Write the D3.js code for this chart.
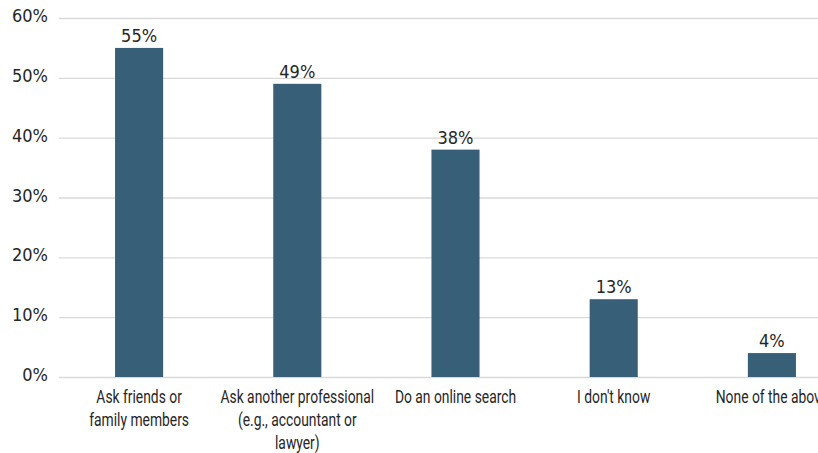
<!DOCTYPE html>
<html>
<head>
<meta charset="utf-8">
<script src="https://cdn.jsdelivr.net/npm/d3@7"></script>
<style>
  html, body { margin: 0; padding: 0; background: #ffffff; }
  svg { display: block; }
</style>
</head>
<body>
<svg id="chart" width="818" height="453"></svg>
<script>
const categories = [
  ["Ask friends or", "family members"],
  ["Ask another professional", "(e.g., accountant or", "lawyer)"],
  ["Do an online search"],
  ["I don't know"],
  ["None of the above"]
];
const values = [55, 49, 38, 13, 4];
const yTicks = [0, 10, 20, 30, 40, 50, 60];

const svg = d3.select("#chart");
const margin = { left: 60 };
const plotRight = 851;

const x = d3.scaleBand()
  .domain(d3.range(values.length))
  .range([margin.left, plotRight])
  .paddingInner(0.696)
  .paddingOuter(0.348);

const y = d3.scaleLinear()
  .domain([0, 60])
  .range([377, 18]);

const numFont = "'DejaVu Sans Condensed', 'DejaVu Sans', sans-serif";
const txtFont = "Roboto, 'DejaVu Sans', sans-serif";
const textColor = "#262626";
const condense = 0.77;

// gridlines
svg.append("g")
  .selectAll("line")
  .data(yTicks)
  .join("line")
  .attr("x1", 59)
  .attr("x2", 818)
  .attr("y1", d => y(d) + 0.5)
  .attr("y2", d => y(d) + 0.5)
  .attr("stroke", "#d9d9d9")
  .attr("stroke-width", 1.3);

// y labels
const yAxis = d3.axisLeft(y).tickValues(yTicks).tickFormat(d => d + "%").tickSize(0).tickPadding(0);
const yg = svg.append("g").attr("transform", "translate(48,0)").call(yAxis);
yg.select(".domain").remove();
yg.selectAll("text")
  .attr("font-family", numFont)
  .attr("font-size", 18)
  .attr("fill", textColor)
  .attr("dy", "0.2em");

// bars
svg.append("g")
  .selectAll("rect")
  .data(values)
  .join("rect")
  .attr("x", (d, i) => x(i))
  .attr("width", x.bandwidth())
  .attr("y", d => y(d))
  .attr("height", d => y(0) - y(d))
  .attr("fill", "#385f78");

// value labels
svg.append("g")
  .selectAll("text")
  .data(values)
  .join("text")
  .attr("x", (d, i) => x(i) + x.bandwidth() / 2)
  .attr("y", d => y(d) - 6)
  .attr("text-anchor", "middle")
  .attr("font-family", numFont)
  .attr("font-size", 18)
  .attr("fill", textColor)
  .text(d => d + "%");

// category labels
const cg = svg.append("g");
categories.forEach((lines, i) => {
  const cx = x(i) + x.bandwidth() / 2;
  const t = cg.append("text")
    .attr("transform", `translate(${cx},403) scale(${condense},1)`)
    .attr("text-anchor", "middle")
    .attr("font-family", txtFont)
    .attr("font-size", 18)
    .attr("fill", textColor);
  lines.forEach((ln, j) => {
    t.append("tspan")
      .attr("x", 0)
      .attr("dy", j === 0 ? 0 : 23)
      .text(ln);
  });
});
</script>
</body>
</html>
